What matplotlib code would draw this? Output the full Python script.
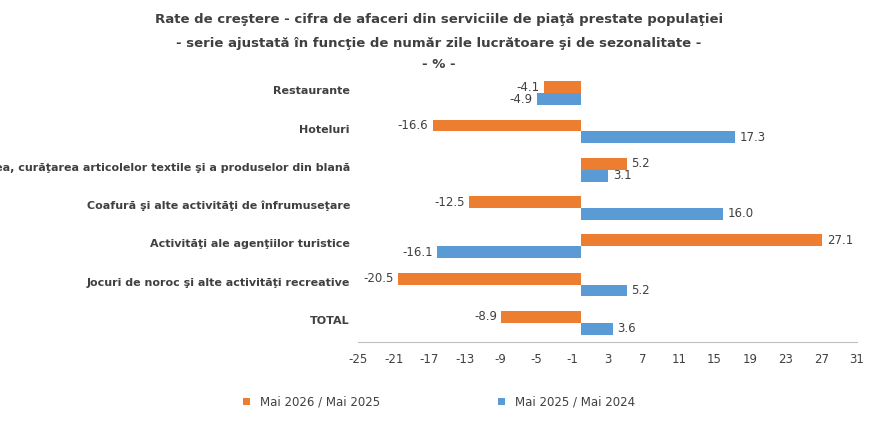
import matplotlib.pyplot as plt
import numpy as np

plt.rcParams['axes.unicode_minus'] = False

categories = ["Restaurante", "Hoteluri",
              "Spălarea, curăţarea articolelor textile şi a produselor din blană",
              "Coafură şi alte activităţi de înfrumuseţare",
              "Activităţi ale agenţiilor turistice",
              "Jocuri de noroc şi alte activităţi recreative", "TOTAL"]
s2026 = [-4.1, -16.6, 5.2, -12.5, 27.1, -20.5, -8.9]
s2025 = [-4.9, 17.3, 3.1, 16.0, -16.1, 5.2, 3.6]
ticks = list(range(-25, 32, 4))

fig = plt.figure(figsize=(8.78, 4.22), dpi=100)
ax = fig.add_axes([358/878, 1-342/422, 499/878, 268/422])
y = np.arange(len(categories))[::-1]
h = 0.31
c1, c2 = "#ED7D31", "#5B9BD5"
ax.barh(y + h/2, s2026, h, color=c1, label="Mai 2026 / Mai 2025")
ax.barh(y - h/2, s2025, h, color=c2, label="Mai 2025 / Mai 2024")
for yy, vals in ((y + h/2, s2026), (y - h/2, s2025)):
    for yi, v in zip(yy, vals):
        off = 0.5 if v >= 0 else -0.5
        ax.text(v + off, yi, f"{v:.1f}", va="center", ha="left" if v >= 0 else "right",
                fontsize=8.5, color="#404040")
ax.set_xlim(-25, 31)
ax.set_ylim(-0.5, len(categories) - 0.5)
ax.set_xticks(ticks)
ax.tick_params(axis="x", labelsize=8.5, colors="#404040", length=0, pad=8)
ax.set_yticks([])
for s in ["top", "right", "left"]:
    ax.spines[s].set_visible(False)
ax.spines["bottom"].set_color("#bfbfbf")
for yi, c in zip(y, categories):
    ax.text(-25.9, yi + 0.05, c, ha="right", va="center", fontsize=8, fontweight="bold", color="#404040")
for t, yp in (("Rate de creştere - cifra de afaceri din serviciile de piaţă prestate populaţiei", 20),
              ("- serie ajustată în funcţie de număr zile lucrătoare şi de sezonalitate -", 43),
              ("- % -", 65)):
    fig.text(0.5, 1-yp/422, t, ha="center", va="center", fontsize=9.5, fontweight="bold", color="#404040")
fig.legend(loc="center", bbox_to_anchor=(0.5, 1-402/422), ncol=2, frameon=False,
           fontsize=8.5, handlelength=0.6, handleheight=0.6, columnspacing=10, labelcolor="#404040")
fig.savefig("out.png", dpi=100)
